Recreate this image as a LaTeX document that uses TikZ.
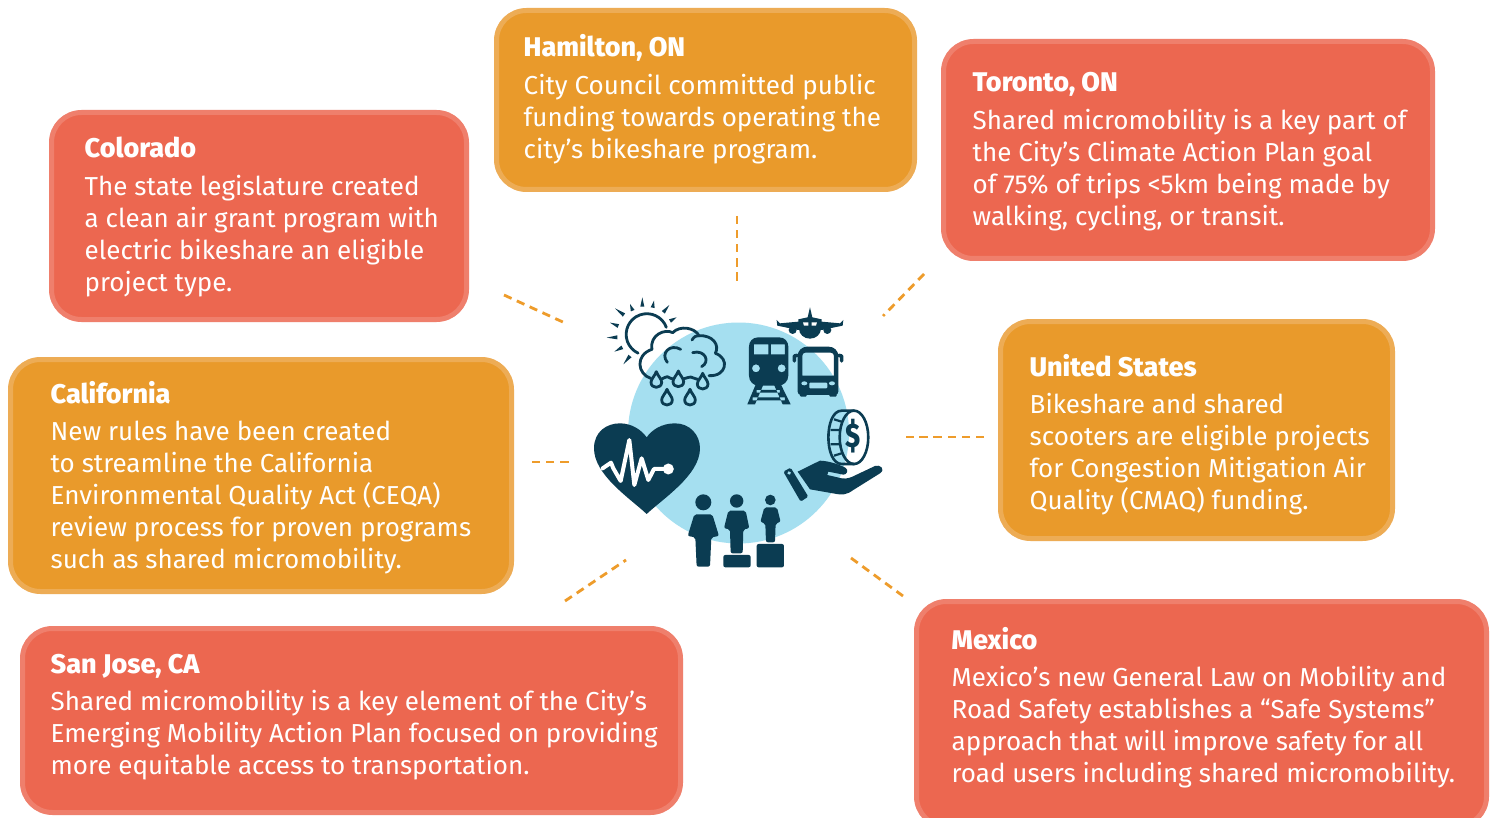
\documentclass[tikz,border=0pt]{standalone}
\usepackage{fontspec}
\usetikzlibrary{calc}
\setmainfont{Fira Sans}[BoldFont={Fira Sans ExtraBold}]
\definecolor{redfill}{HTML}{EC6750}
\definecolor{redline}{HTML}{EF7F6C}
\definecolor{orangefill}{HTML}{E99A2B}
\definecolor{orangeline}{HTML}{EDAC55}
\definecolor{dashorange}{HTML}{EE9C2B}
\definecolor{globe}{HTML}{A5DFF0}
\definecolor{ink}{HTML}{0B3C52}
\tikzset{
  card/.style={rectangle,rounded corners=30pt,line width=5pt,inner sep=0pt,anchor=north west},
  redcard/.style={card,draw=redline,fill=redfill},
  orangecard/.style={card,draw=orangeline,fill=orangefill},
  cardtitle/.style={anchor=base west,inner sep=0pt,text=white,font=\fontsize{27}{32}\selectfont\bfseries},
  cardbody/.style={anchor=north west,inner sep=0pt,text=white,align=left,font=\fontsize{26}{32}\selectfont},
  spoke/.style={draw=dashorange,line width=2.8pt,dash pattern=on 8.3pt off 5.8pt},
  inkline/.style={draw=ink,line width=2.8pt,line cap=round,line join=round},
}
\newcommand{\cardtext}[5]{%
  \node[cardtitle] (#1t) at (#2-0.5,#3+1) {#4};
  \node[cardbody] (#1b) at (#2-0.5,#3+16) {\rule{0pt}{22pt}#5};}
\newcommand{\dropicon}[2]{%
  \draw[inkline] (#1,#2-32) .. controls (#1+4,#2-20) and (#1+16,#2-10) .. (#1+16,#2) .. controls (#1+16,#2+20) and (#1-16,#2+20) .. (#1-16,#2) .. controls (#1-16,#2-10) and (#1-4,#2-20) .. cycle;}
\begin{document}
\begin{tikzpicture}[x=1pt,y=-1pt]
\useasboundingbox (0,0) rectangle (1496,818);
\fill[white] (0,0) rectangle (1496,818);
% cards
\node[orangecard,minimum width=418pt,minimum height=179pt] (hamilton) at (494,8) {};
\node[redcard,minimum width=489pt,minimum height=217pt] (toronto) at (941,39) {};
\node[redcard,minimum width=415pt,minimum height=207pt] (colorado) at (49,110) {};
\node[orangecard,minimum width=501pt,minimum height=232pt] (california) at (8,357) {};
\node[orangecard,minimum width=392pt,minimum height=217pt] (us) at (998,319) {};
\node[redcard,minimum width=658pt,minimum height=184pt] (sanjose) at (20,626) {};
\node[redcard,minimum width=570pt,minimum height=225pt] (mexico) at (914,599) {};
% text
\cardtext{ham}{524}{56}{Hamilton, ON}{City Council committed public\\funding towards operating the\\city’s bikeshare program.}
\cardtext{tor}{973}{91}{Toronto, ON}{Shared micromobility is a key part of\\the City’s Climate Action Plan goal\\of 75\% of trips <5km being made by\\walking, cycling, or transit.}
\cardtext{col}{85}{157}{Colorado}{The state legislature created\\a clean air grant program with\\electric bikeshare an eligible\\project type.}
\cardtext{cal}{51}{402}{California}{New rules have been created\\to streamline the California\\Environmental Quality Act (CEQA)\\review process for proven programs\\such as shared micromobility.}
\cardtext{uss}{1030}{375}{United States}{Bikeshare and shared\\scooters are eligible projects\\for Congestion Mitigation Air\\Quality (CMAQ) funding.}
\cardtext{sj}{51}{672}{San Jose, CA}{Shared micromobility is a key element of the City’s\\Emerging Mobility Action Plan focused on providing\\more equitable access to transportation.}
\cardtext{mex}{952}{648}{Mexico}{Mexico’s new General Law on Mobility and\\Road Safety establishes a “Safe Systems”\\approach that will improve safety for all\\road users including shared micromobility.}
% spokes
\coordinate (h1) at (737,216); \coordinate (h2) at (737,282);
\coordinate (t1) at (924,274); \coordinate (t2) at (883,316);
\coordinate (u1) at (984,437); \coordinate (u2) at (906,437);
\coordinate (m1) at (851,558); \coordinate (m2) at (903,596);
\coordinate (s1) at (565,601); \coordinate (s2) at (626,560);
\coordinate (c1) at (532,462); \coordinate (c2) at (574,462);
\coordinate (o1) at (504,295); \coordinate (o2) at (565,323);
\foreach \a/\b in {h1/h2,t1/t2,u1/u2,m1/m2,s1/s2,c1/c2,o1/o2} \draw[spoke] (\a) -- (\b);
% globe
\node[circle,fill=globe,minimum size=221pt,inner sep=0pt] (globe) at (738.5,433) {};
% upper icons, coordinates from a 3x crop at (580,280)
\begin{scope}[shift={(580,280)},x=0.3333pt,y=-0.3333pt]
  % sun
  \draw[inkline] (259,142) arc[start angle=20,end angle=245,radius=20.7pt];
  \foreach \ax/\ay/\bx/\by in {187/52/187/80,222/62/218/83,268/75/250/97,290/112/270/123,150/72/158/92,105/85/132/105,90/128/115/138,80/173/112/172,103/215/127/202,130/253/150/228}{
    \coordinate (ra) at (\ax,\ay); \coordinate (rb) at (\bx,\by);
    \fill[ink] (ra) -- ($(rb)!2pt!90:(ra)$) -- ($(rb)!2pt!-90:(ra)$) -- cycle;
  }
  % cloud
  \draw[inkline] (212,295) .. controls (172,282) and (165,225) .. (216,208)
     .. controls (208,165) and (255,145) .. (278,158)
     .. controls (300,135) and (345,143) .. (357,167)
     .. controls (398,165) and (420,195) .. (406,220)
     .. controls (450,235) and (440,290) .. (387,287);
  \draw[inkline] (243,298) .. controls (250,298) and (255,288) .. (262,290) .. controls (268,292) and (274,298) .. (280,297);
  \draw[inkline] (310,297) .. controls (318,296) and (325,290) .. (332,291) .. controls (340,292) and (346,298) .. (353,298);
  \draw[inkline] (262,247) .. controls (240,220) and (270,190) .. (302,208);
  \draw[inkline] (338,218) .. controls (375,208) and (392,245) .. (365,260);
  \draw[inkline] (336,180) .. controls (342,170) and (350,165) .. (358,167);
  \dropicon{229}{307}\dropicon{295}{305}\dropicon{368}{312}\dropicon{261}{360}\dropicon{330}{360}
  % train
  \fill[ink,even odd rule] (535,172) -- (597,172) .. controls (615,172) and (625,185) .. (625,200) -- (625,287) .. controls (625,305) and (610,317) .. (595,317) -- (537,317) .. controls (520,317) and (507,305) .. (507,287) -- (507,200) .. controls (507,185) and (517,172) .. (535,172) -- cycle
     (522,193) rectangle (565,223) (573,193) rectangle (615,223)
     (528,265) circle[radius=4pt] (605,265) circle[radius=4pt];
  \fill[ink] (527,314) -- (550,314) -- (525,373) -- (502,373) -- cycle
     (582,314) -- (603,314) -- (632,373) -- (608,373) -- cycle
     (530,330) rectangle (600,338) (518,352) rectangle (615,361);
  % bus
  \fill[ink,even odd rule] (682,200) -- (746,200) .. controls (762,200) and (775,212) .. (775,228) -- (775,335) .. controls (775,341) and (771,345) .. (765,345) -- (663,345) .. controls (657,345) and (653,341) .. (653,335) -- (653,228) .. controls (653,212) and (666,200) .. (682,200) -- cycle
     (676,218) -- (752,218) .. controls (758,218) and (762,222) .. (762,228) -- (762,287) -- (667,287) -- (667,228) .. controls (667,222) and (670,218) .. (676,218) -- cycle;
  \fill[globe] (673,310) ellipse[x radius=3pt,y radius=2pt] (756,310) ellipse[x radius=3pt,y radius=2pt];
  \fill[globe,rounded corners=1pt] (688,308) rectangle (742,325);
  \fill[ink,rounded corners=1pt] (660,340) rectangle (680,350) (748,340) rectangle (770,350);
  \draw[draw=ink,line width=3.5pt,line cap=round,line join=round] (652,226) -- (643,228) -- (643,243) (776,226) -- (785,228) -- (785,243);
  % plane
  \fill[ink] (690,82) -- (697,112) -- (725,118) -- (725,128) -- (655,128) -- (655,118) -- (683,112) -- cycle;
  \fill[ink] (590,120) -- (600,130) -- (655,125) -- (725,125) -- (780,130) -- (790,120) -- (788,137) -- (725,150) -- (655,150) -- (592,137) -- cycle;
  \fill[ink] (690,146) ellipse[x radius=11pt,y radius=10pt];
  \fill[ink] (638,150) circle[radius=4pt] (742,150) circle[radius=4pt];
  \fill[white] (669,127) -- (685,127) -- (685,137) -- (672,137) -- cycle (695,127) -- (711,127) -- (708,137) -- (695,137) -- cycle;
\end{scope}
% lower icons, coordinates from a 3x crop at (580,400)
\begin{scope}[shift={(580,400)},x=0.3333pt,y=-0.3333pt]
  % heart
  \fill[ink] (200,342) .. controls (150,295) and (42,225) .. (42,145) .. controls (42,95) and (80,70) .. (120,70) .. controls (155,70) and (185,90) .. (200,112) .. controls (215,90) and (245,70) .. (285,70) .. controls (330,70) and (360,105) .. (360,145) .. controls (360,225) and (250,295) .. (200,342) -- cycle;
  \draw[white,line width=4pt,line join=round,line cap=round] (68,205) -- (93,188) -- (100,205) -- (122,243) -- (148,120) -- (163,255) -- (185,175) -- (205,240) -- (222,207) -- (265,207);
  \fill[white] (265,207) circle[radius=5.5pt];
  % hand
  \fill[ink,even odd rule,rounded corners=1.5pt] (610,215) -- (632,203) -- (685,290) -- (662,305) -- cycle (620,217) -- (630,212) -- (635,221) -- (625,226) -- cycle;
  \fill[ink] (653,215) -- (720,182) .. controls (750,183) and (780,195) .. (796,203) .. controls (808,210) and (800,225) .. (790,224) -- (745,215) -- (742,225) -- (785,235) .. controls (800,238) and (815,232) .. (830,224) -- (885,198) .. controls (900,192) and (918,208) .. (900,220) -- (820,270) .. controls (800,285) and (785,285) .. (770,282) -- (690,268) -- cycle;
  % coin
  \draw[draw=ink,line width=2.6pt] (822,112) ellipse[x radius=14.3pt,y radius=26.7pt];
  \draw[draw=ink,line width=2.6pt] (823,32) -- (785,32) .. controls (732,32) and (732,192) .. (785,192) -- (823,192);
  \draw[draw=ink,line width=2.2pt] (752,90) -- (780,90) (752,133) -- (780,133) (762,58) -- (788,66) (762,167) -- (788,159);
  \node[text=ink,inner sep=0pt,xscale=0.8,font=\fontsize{34}{34}\selectfont\bfseries] (dollar) at (820,109) {\$};
  % people
  \fill[ink] (370,307) circle[radius=8pt] (470,303) circle[radius=6.7pt] (571,300) circle[radius=5.3pt];
  \fill[ink,rounded corners=2pt] (343,343) -- (397,343) -- (417,408) -- (394,412) -- (390,500) -- (350,500) -- (346,412) -- (323,408) -- cycle;
  \fill[ink,rounded corners=2pt] (445,332) -- (497,332) -- (508,385) -- (490,388) -- (488,460) -- (452,460) -- (450,388) -- (432,385) -- cycle;
  \fill[ink,rounded corners=2pt] (553,322) -- (591,322) -- (602,366) -- (587,370) -- (585,427) -- (558,427) -- (556,370) -- (541,366) -- cycle;
  \fill[ink,rounded corners=2pt] (430,465) rectangle (512,502) (530,432) rectangle (612,502);
\end{scope}
\end{tikzpicture}
\end{document}
